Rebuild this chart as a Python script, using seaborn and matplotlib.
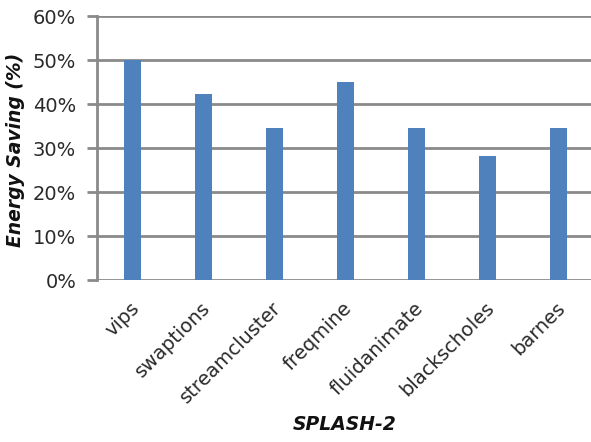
import matplotlib
matplotlib.use("Agg")
import matplotlib.pyplot as plt
import matplotlib.transforms as mtransforms
import seaborn as sns
import pandas as pd
from matplotlib.ticker import PercentFormatter

benchmarks = ["vips", "swaptions", "streamcluster", "freqmine",
              "fluidanimate", "blackscholes", "barnes"]
energy_saving = [50.0, 42.3, 34.6, 45.1, 34.6, 28.1, 34.6]
y_ticks = [0, 10, 20, 30, 40, 50, 60]

df = pd.DataFrame({"benchmark": benchmarks, "saving": energy_saving})

sns.set_style("white")
plt.rcParams["font.family"] = ["DejaVu Sans"]

fig = plt.figure(figsize=(5.91, 4.42), dpi=100)
ax = fig.add_axes([97 / 591, 1 - 280 / 442, (591 - 97) / 591, (280 - 16) / 442])

sns.barplot(data=df, x="benchmark", y="saving", color="#4F81BD",
            width=0.25, saturation=1, linewidth=0, ax=ax, zorder=3)

grid_color = "#8A8A8A"
ax.set_ylim(0, 60)
ax.set_yticks(y_ticks)
ax.yaxis.set_major_formatter(PercentFormatter(decimals=0))
ax.set_xlim(-0.5, -0.5 + 7 * (591 - 97) / (594 - 97))
ax.yaxis.grid(True, color=grid_color, linewidth=2, zorder=0)
ax.set_axisbelow(True)

for side in ["top", "right", "bottom"]:
    ax.spines[side].set_visible(False)
ax.spines["left"].set_color(grid_color)
ax.spines["left"].set_linewidth(2)

ax.tick_params(axis="y", left=True, length=7, width=2, color=grid_color,
               labelsize=14, labelcolor="#2A2A2A", pad=8)
ax.tick_params(axis="x", bottom=False, labelsize=14, labelcolor="#2A2A2A", pad=2)

plt.setp(ax.get_xticklabels(), rotation=45, ha="right", rotation_mode="anchor")
shift = mtransforms.ScaledTranslation(-3 / 100, -11 / 100, fig.dpi_scale_trans)
for lbl in ax.get_xticklabels():
    lbl.set_transform(lbl.get_transform() + shift)

ax.set_ylabel("Energy Saving (%)", fontsize=13.5, fontweight="bold",
              fontstyle="italic", color="#111111", labelpad=6)
ax.set_xlabel("SPLASH-2", fontsize=13.5, fontweight="bold",
              fontstyle="italic", color="#111111")
ax.xaxis.set_label_coords(345 / 591, 1 - 425 / 442, transform=fig.transFigure)
ax.xaxis.label.set_va("center")
ax.yaxis.set_label_coords(16 / 591, 1 - 150 / 442, transform=fig.transFigure)
ax.yaxis.label.set_va("center")

fig.savefig("out.png", dpi=100)
